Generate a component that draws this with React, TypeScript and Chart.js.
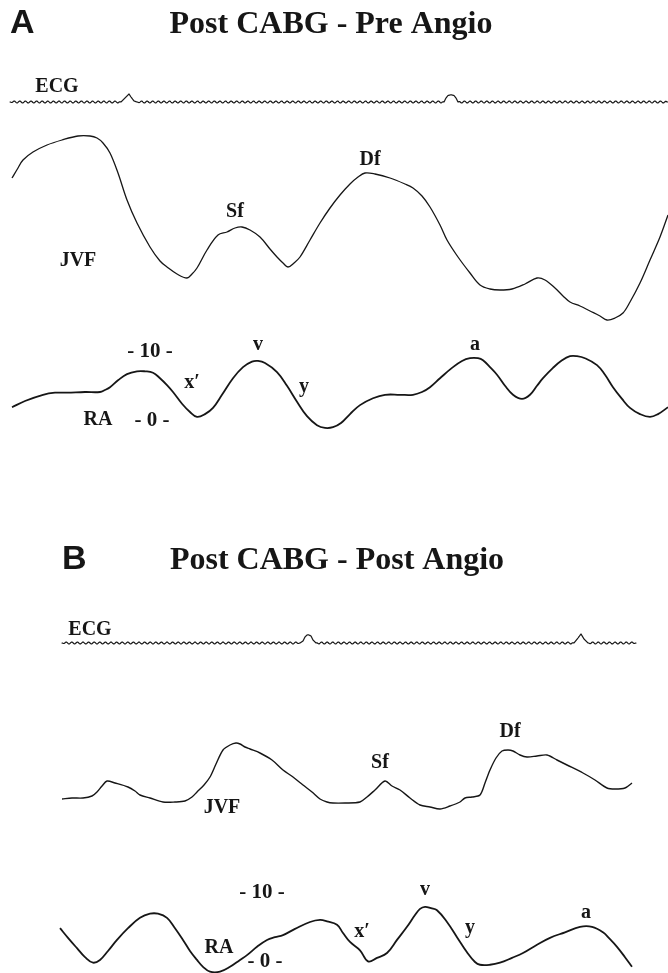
import { useEffect, useRef } from 'react';
import { Chart, registerables } from 'chart.js';

Chart.register(...registerables);

const W = 668;
const H = 973;

// ---------- Panel A : Post CABG - Pre Angio ----------
const ecgATime = [10, 121, 125, 129, 131, 134, 137, 444, 446, 448, 450, 452, 454, 456, 458, 668];
const ecgAValues = [0, 0, 4, 8, 5, 1, 0, 0, 4, 6.5, 7, 7, 6.5, 4, 0, 0];

const jvfATime = [12, 18, 23, 33, 47, 62, 78, 90, 97, 103, 110, 118, 127, 137, 150, 160, 167, 177, 187, 192, 197, 207, 218, 227, 235, 242, 250, 260, 270, 277, 283, 288, 294, 300, 310, 320, 330, 340, 350, 358, 365, 375, 390, 405, 413, 422, 430, 440, 447, 458, 470, 480, 490, 500, 512, 525, 537, 545, 555, 563, 570, 580, 590, 600, 607, 615, 623, 630, 640, 650, 660, 668];
const jvfAValues = [152, 162, 170, 178, 185, 190, 194, 194, 192, 187, 177, 157, 130, 107, 83, 69, 63, 56, 52, 56, 62, 80, 95, 98, 102, 103, 100, 93, 81, 73, 67, 63, 67, 73, 90, 107, 122, 135, 146, 153, 157, 156, 152, 146, 142, 134, 123, 105, 90, 73, 57, 45, 41, 40, 41, 46, 52, 50, 42, 34, 28, 24, 19, 14, 10, 12, 17, 28, 47, 70, 93, 115];

// RA pressure, mmHg
const raATime = [12, 25, 43, 55, 67, 85, 100, 105, 110, 118, 127, 137, 145, 153, 160, 167, 173, 182, 190, 197, 205, 213, 222, 233, 243, 252, 258, 265, 277, 287, 297, 307, 317, 325, 333, 341, 350, 360, 373, 385, 400, 413, 422, 430, 440, 452, 462, 470, 478, 483, 490, 497, 505, 513, 522, 530, 537, 543, 553, 562, 570, 577, 585, 597, 605, 613, 622, 630, 640, 650, 658, 668];
const raAValues = [2.0, 2.9, 3.8, 4.1, 4.1, 4.2, 4.2, 4.5, 4.9, 5.9, 6.8, 7.2, 7.2, 7.0, 6.2, 5.2, 4.2, 2.5, 1.3, 0.6, 1.0, 1.9, 3.8, 6.2, 7.8, 8.6, 8.7, 8.4, 7.1, 5.1, 2.8, 0.7, -0.6, -1.0, -0.9, -0.3, 1.0, 2.3, 3.3, 3.8, 3.8, 3.8, 4.2, 4.9, 6.2, 7.7, 8.7, 9.1, 9.1, 8.8, 7.8, 6.7, 5.1, 3.8, 3.2, 3.8, 5.1, 6.2, 7.7, 8.8, 9.4, 9.4, 9.1, 8.1, 6.7, 4.9, 3.2, 1.9, 1.0, 0.6, 1.0, 2.0];

// ---------- Panel B : Post CABG - Post Angio ----------
const ecgBTime = [62, 300, 303, 305, 307, 309, 311, 313, 316, 574, 578, 581, 584, 588, 636];
const ecgBValues = [0, 0, 2, 6, 8, 8, 7, 3, 0, 0, 5, 9, 4, 0, 0];

const jvfBTime = [62, 72, 83, 92, 97, 102, 107, 115, 128, 135, 140, 150, 163, 175, 185, 192, 197, 204, 210, 216, 223, 230, 236, 240, 245, 250, 260, 272, 283, 293, 303, 312, 320, 327, 333, 345, 360, 367, 375, 385, 392, 400, 410, 420, 430, 440, 450, 460, 465, 472, 480, 485, 490, 496, 502, 508, 513, 520, 527, 537, 547, 557, 567, 583, 595, 607, 615, 625, 632];
const jvfBValues = [21, 22, 22, 24, 28, 34, 39, 37, 33, 29, 25, 22, 18, 18, 19, 23, 28, 35, 43, 56, 70, 75, 77, 76, 73, 71, 67, 60, 50, 43, 35, 28, 21, 18, 17, 17, 18, 23, 30, 39, 34, 30, 22, 15, 13, 11, 14, 18, 22, 23, 25, 37, 50, 62, 69, 70, 69, 65, 63, 64, 65, 60, 55, 47, 40, 32, 31, 32, 37];

const raBTime = [60, 68, 77, 85, 93, 100, 108, 117, 128, 140, 150, 158, 167, 175, 183, 190, 197, 203, 210, 220, 230, 240, 247, 257, 267, 275, 283, 295, 310, 320, 327, 337, 343, 350, 360, 368, 377, 387, 397, 407, 415, 420, 425, 431, 437, 447, 457, 467, 475, 480, 490, 500, 512, 523, 537, 550, 565, 580, 592, 603, 610, 617, 625, 632];
const raBValues = [4.9, 3.5, 2.0, 0.7, -0.1, 0.3, 1.6, 3.2, 4.9, 6.4, 7.0, 7.0, 6.4, 4.9, 3.2, 1.6, 0.3, -0.7, -1.4, -1.4, -0.7, 0.3, 1.0, 2.2, 3.2, 3.6, 3.9, 4.8, 5.8, 6.1, 5.9, 5.4, 4.2, 2.9, 1.7, 0.1, 0.6, 1.3, 3.2, 5.1, 6.8, 7.7, 8.0, 7.8, 7.5, 5.8, 3.6, 1.4, 0.0, -0.4, -0.4, -0.1, 0.6, 1.3, 2.5, 3.5, 4.3, 5.1, 5.1, 4.3, 3.3, 2.2, 0.7, -0.7];

// ---------- text annotations (placed in data units of each trace) ----------
const traceLabels = [
  { text: 'ECG', axis: 'ecgA', t: 57, v: 10 },
  { text: 'JVF', axis: 'jvfA', t: 78, v: 64 },
  { text: 'Sf', axis: 'jvfA', t: 235, v: 113 },
  { text: 'Df', axis: 'jvfA', t: 370, v: 165 },
  { text: 'v', axis: 'raA', t: 258, v: 10.3 },
  { text: 'x\u2032', axis: 'raA', t: 192, v: 4.8 },
  { text: 'y', axis: 'raA', t: 304, v: 4.2 },
  { text: 'RA', axis: 'raA', t: 98, v: -0.6 },
  { text: 'a', axis: 'raA', t: 475, v: 10.3 },
  { text: 'ECG', axis: 'ecgB', t: 90, v: 8 },
  { text: 'JVF', axis: 'jvfB', t: 222, v: 7 },
  { text: 'Sf', axis: 'jvfB', t: 380, v: 52 },
  { text: 'Df', axis: 'jvfB', t: 510, v: 83 },
  { text: 'RA', axis: 'raB', t: 219, v: 1.3 },
  { text: 'x\u2032', axis: 'raB', t: 362, v: 3.6 },
  { text: 'v', axis: 'raB', t: 425, v: 9.7 },
  { text: 'y', axis: 'raB', t: 470, v: 4.2 },
  { text: 'a', axis: 'raB', t: 586, v: 6.4 },
];
// pressure calibration marks (mmHg)
const raTicks = [
  { text: '- 10 -', axis: 'raA', t: 150, v: 10 },
  { text: '- 0 -', axis: 'raA', t: 152, v: 0 },
  { text: '- 10 -', axis: 'raB', t: 262, v: 10 },
  { text: '- 0 -', axis: 'raB', t: 265, v: 0 },
];
const panelTitles = [
  { letter: 'A', title: 'Post CABG - Pre Angio' },
  { letter: 'B', title: 'Post CABG - Post Angio' },
];

// ---------- layout (pixel placement of each trace band) ----------
const bands: Record<string, { zero: number; k: number }> = {
  ecgA: { zero: 102, k: 1 },
  jvfA: { zero: 330, k: 1 },
  raA: { zero: 421, k: 6.9 },
  ecgB: { zero: 643, k: 1 },
  jvfB: { zero: 820, k: 1 },
  raB: { zero: 962, k: 6.9 },
};
const titleLayout = [
  { letterX: 10, titleX: 331, baseline: 33 },
  { letterX: 62, titleX: 337, baseline: 569 },
];

const INK = '#161616';
const serif = "'Liberation Serif', 'Times New Roman', serif";
const sans = "'Liberation Sans', Arial, sans-serif";

const series = (t: number[], v: number[]) => t.map((x, i) => ({ x, y: v[i] }));

const bandAxis = (id: string) => {
  const b = bands[id];
  return { type: 'linear', axis: 'y', position: 'left', display: false, min: (b.zero - H) / b.k, max: b.zero / b.k };
};

const wavyPlugin = {
  id: 'wavyTrace',
  beforeDatasetDraw(chart: any, args: any) {
    const ds = chart.data.datasets[args.index];
    if (!ds.wavy) return;
    const pts = args.meta.data.map((p: any) => ({ x: p.x, y: p.y }));
    const ctx = chart.ctx;
    ctx.save();
    ctx.strokeStyle = ds.borderColor;
    ctx.lineWidth = ds.borderWidth;
    ctx.lineJoin = 'round';
    ctx.lineCap = 'round';
    ctx.beginPath();
    const lambda = 5.6;
    const amp = 0.95;
    let s = 0;
    let started = false;
    for (let i = 0; i < pts.length - 1; i++) {
      const a = pts[i];
      const b = pts[i + 1];
      const dx = b.x - a.x;
      const dy = b.y - a.y;
      const len = Math.hypot(dx, dy);
      const flat = Math.abs(dy) < 0.01;
      const n = Math.max(1, Math.ceil(len / 0.5));
      for (let j = 0; j <= n; j++) {
        if (j === 0 && started) continue;
        const f = j / n;
        const px = a.x + dx * f;
        let py = a.y + dy * f;
        const ss = s + len * f;
        if (flat) {
          const d = Math.min(len * f, len * (1 - f));
          const env = Math.min(1, d / 3);
          py += amp * env * Math.sin((2 * Math.PI * ss) / lambda);
        }
        if (!started) {
          ctx.moveTo(px, py);
          started = true;
        } else ctx.lineTo(px, py);
      }
      s += len;
    }
    ctx.stroke();
    ctx.restore();
    return false;
  },
};

const textPlugin = {
  id: 'traceText',
  afterDraw(chart: any) {
    const ctx = chart.ctx;
    const xs = chart.scales.x;
    ctx.save();
    ctx.fillStyle = INK;
    panelTitles.forEach((p, i) => {
      const L = titleLayout[i];
      ctx.textBaseline = 'alphabetic';
      ctx.textAlign = 'left';
      ctx.font = `bold 34px ${sans}`;
      ctx.fillText(p.letter, L.letterX, L.baseline);
      ctx.textAlign = 'center';
      ctx.font = `bold 32px ${serif}`;
      ctx.fillText(p.title, L.titleX, L.baseline);
    });
    ctx.textAlign = 'center';
    ctx.textBaseline = 'alphabetic';
    ctx.font = `bold 20px ${serif}`;
    traceLabels.forEach((l) => {
      const x = xs.getPixelForValue(l.t);
      const y = chart.scales[l.axis].getPixelForValue(l.v);
      ctx.fillText(l.text, x, y);
    });
    ctx.textBaseline = 'middle';
    ctx.font = `bold 21px ${serif}`;
    raTicks.forEach((l) => {
      const x = xs.getPixelForValue(l.t);
      const y = chart.scales[l.axis].getPixelForValue(l.v);
      ctx.fillText(l.text, x, y);
    });
    ctx.restore();
  },
};

export default function App() {
  const ref = useRef<HTMLCanvasElement>(null);
  useEffect(() => {
    document.body.style.margin = '0';
    const mk = (label: string, t: number[], v: number[], axis: string, width: number, tension: number, wavy = false) => ({
      label,
      data: series(t, v),
      yAxisID: axis,
      borderColor: INK,
      borderWidth: width,
      pointRadius: 0,
      tension,
      fill: false,
      wavy,
    });
    const chart = new Chart(ref.current as HTMLCanvasElement, {
      type: 'line',
      data: {
        datasets: [
          mk('ECG A', ecgATime, ecgAValues, 'ecgA', 1.2, 0, true),
          mk('JVF A', jvfATime, jvfAValues, 'jvfA', 1.3, 0.35),
          mk('RA A', raATime, raAValues, 'raA', 1.8, 0.4),
          mk('ECG B', ecgBTime, ecgBValues, 'ecgB', 1.2, 0, true),
          mk('JVF B', jvfBTime, jvfBValues, 'jvfB', 1.4, 0.3),
          mk('RA B', raBTime, raBValues, 'raB', 1.8, 0.4),
        ] as any,
      },
      options: {
        responsive: false,
        animation: false,
        events: [],
        layout: { padding: 0 },
        plugins: { legend: { display: false }, tooltip: { enabled: false }, title: { display: false } },
        scales: {
          x: { type: 'linear', axis: 'x', display: false, min: 0, max: W },
          ecgA: bandAxis('ecgA'),
          jvfA: bandAxis('jvfA'),
          raA: bandAxis('raA'),
          ecgB: bandAxis('ecgB'),
          jvfB: bandAxis('jvfB'),
          raB: bandAxis('raB'),
        } as any,
      },
      plugins: [wavyPlugin, textPlugin],
    });
    return () => chart.destroy();
  }, []);
  return (
    <div style={{ width: W, height: H, background: '#fff' }}>
      <canvas ref={ref} width={W} height={H} style={{ display: 'block' }} />
    </div>
  );
}
